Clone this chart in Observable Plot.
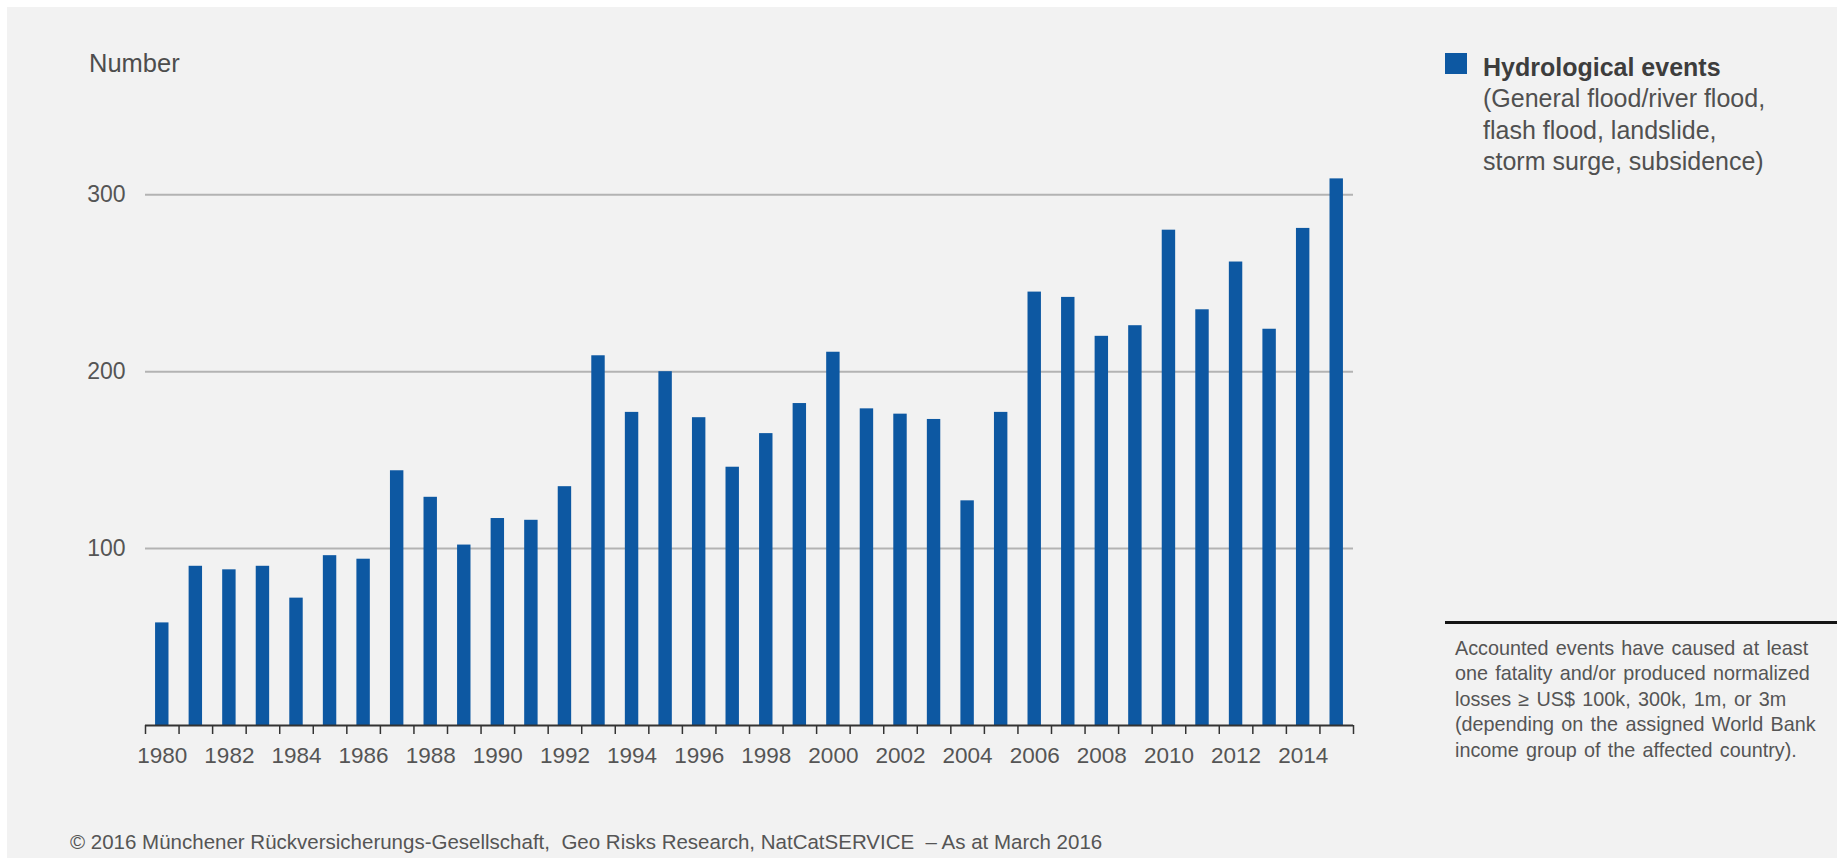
<!DOCTYPE html>
<html>
<head>
<meta charset="utf-8">
<script src="https://cdn.jsdelivr.net/npm/d3@7"></script>
<script src="https://cdn.jsdelivr.net/npm/@observablehq/plot@0.6"></script>
<style>
  html, body { margin: 0; padding: 0; background: #ffffff; }
  body { width: 1837px; height: 858px; position: relative; overflow: hidden;
         font-family: "Liberation Sans", Arial, Helvetica, sans-serif; }
  #panel { position: absolute; left: 7px; top: 7px; right: 0; bottom: 0; background: #f2f2f2; }
  #chart { position: absolute; left: 0; top: 0; }
  #ylabel { position: absolute; left: 89px; top: 50.5px; font-size: 25.5px; line-height: 25.5px; color: #4d4d4d; }
  #legend { position: absolute; left: 1445px; top: 53px; }
  #legend .sw { position: absolute; left: 0; top: 0; width: 22px; height: 21px; background: #0d58a2; }
  #legend .txt { position: absolute; left: 38px; top: -1px; width: 380px; font-size: 25px; line-height: 31.3px; color: #505050; white-space: nowrap; }
  #legend .txt b { color: #3d3d3d; }
  #note { position: absolute; left: 1445px; top: 621px; right: 0; border-top: 3px solid #151515; }
  #note .txt { position: absolute; left: 10px; top: 11.5px; font-size: 19.8px; line-height: 25.5px; color: #555; white-space: nowrap; word-spacing: 1.8px; }
  #footer { position: absolute; left: 70px; top: 831px; font-size: 20.5px; line-height: 21px; color: #555; white-space: pre; }
</style>
</head>
<body>
<div id="panel"></div>
<div id="chart"></div>
<div id="ylabel">Number</div>
<div id="legend"><div class="sw"></div><div class="txt"><b>Hydrological events</b><br>(General flood/river flood,<br>flash flood, landslide,<br>storm surge, subsidence)</div></div>
<div id="note"><div class="txt">Accounted events have caused at least<br>one fatality and/or produced normalized<br>losses ≥ US$ 100k, 300k, 1m, or 3m<br>(depending on the assigned World Bank<br>income group of the affected country).</div></div>
<div id="footer">© 2016 Münchener Rückversicherungs-Gesellschaft,  Geo Risks Research, NatCatSERVICE  – As at March 2016</div>
<script>
const years = [1980, 1981, 1982, 1983, 1984, 1985, 1986, 1987, 1988, 1989,
               1990, 1991, 1992, 1993, 1994, 1995, 1996, 1997, 1998, 1999,
               2000, 2001, 2002, 2003, 2004, 2005, 2006, 2007, 2008, 2009,
               2010, 2011, 2012, 2013, 2014, 2015];
const hydrologicalEvents = [58, 90, 88, 90, 72, 96, 94, 144, 129, 102,
                            117, 116, 135, 209, 177, 200, 174, 146, 165, 182,
                            211, 179, 176, 173, 127, 177, 245, 242, 220, 226,
                            280, 235, 262, 224, 281, 309];
const xTickLabels = [1980, 1982, 1984, 1986, 1988, 1990, 1992, 1994, 1996, 1998,
                     2000, 2002, 2004, 2006, 2008, 2010, 2012, 2014];
const yTickValues = [100, 200, 300];

const data = years.map((year, i) => ({year, value: hydrologicalEvents[i]}));
const boundaries = years.map(y => y - 0.5).concat([years[years.length - 1] + 0.5]);

const chart = Plot.plot({
  width: 1360,
  height: 800,
  marginLeft: 145,
  marginRight: 7,
  marginTop: 194.3,
  marginBottom: 75,
  style: {background: "transparent", fontFamily: "'Liberation Sans', Arial, Helvetica, sans-serif", color: "#555"},
  x: {type: "linear", domain: [years[0] - 0.5, years[years.length - 1] + 0.5]},
  y: {domain: [0, 300]},
  marks: [
    Plot.ruleY(yTickValues, {stroke: "#b3b3b3", strokeWidth: 2}),
    Plot.rectY(data, {x1: d => d.year - 0.2, x2: d => d.year + 0.2, y: "value", fill: "#0d58a2"}),
    Plot.ruleY([0], {stroke: "#333", strokeWidth: 2}),
    Plot.axisX({ticks: boundaries, tickSize: 9, tickFormat: () => "", stroke: "#333", strokeWidth: 1.5, label: null}),
    Plot.axisX({ticks: xTickLabels, tickSize: 0, tickPadding: 22, tickFormat: d => String(d), fontSize: 22.5, fill: "#555", label: null}),
    Plot.axisY({ticks: yTickValues, tickSize: 0, tickPadding: 20, fontSize: 23, fill: "#555", label: null})
  ]
});
document.getElementById("chart").appendChild(chart);
</script>
</body>
</html>
